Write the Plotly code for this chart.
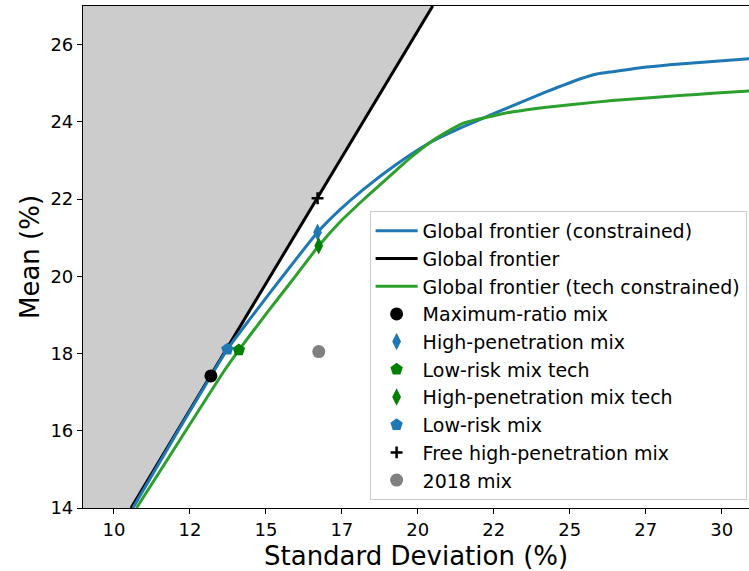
import plotly.graph_objects as go

# ---- data ----
frontier_sd = [10.56, 20.49]
frontier_mean = [14.0, 27.0]

constrained_sd = [10.62, 12.0, 13.19, 13.73, 14.47, 15.20, 15.95, 16.70, 17.43, 18.19,
                  19.31, 20.39, 21.48, 22.04, 23.13, 24.24, 25.33, 25.89, 26.41, 27.53,
                  28.62, 29.70, 30.95]
constrained_mean = [14.0, 15.85, 17.42, 18.11, 18.89, 19.64, 20.40, 21.14, 21.72, 22.24,
                    22.91, 23.46, 23.87, 24.06, 24.42, 24.78, 25.11, 25.24, 25.30, 25.42,
                    25.50, 25.56, 25.64]

tech_sd = [10.74, 12.20, 13.65, 14.11, 15.02, 15.90, 16.74, 17.43, 18.19, 19.31, 19.74,
           20.39, 21.00, 21.48, 22.04, 22.50, 23.13, 24.24, 25.33, 26.41, 27.53, 28.62,
           29.70, 30.95]
tech_mean = [14.0, 15.80, 17.58, 18.09, 19.04, 19.93, 20.79, 21.40, 21.97, 22.76, 23.06,
             23.46, 23.76, 23.96, 24.08, 24.16, 24.26, 24.38, 24.47, 24.55, 24.62, 24.68,
             24.74, 24.80]

points = {
    "Maximum-ratio mix": (13.19, 17.42),
    "High-penetration mix": (16.70, 21.14),
    "Low-risk mix tech": (14.11, 18.09),
    "High-penetration mix tech": (16.74, 20.79),
    "Low-risk mix": (13.73, 18.11),
    "Free high-penetration mix": (16.70, 22.02),
    "2018 mix": (16.74, 18.05),
}

x_tickvals = [10, 12.5, 15, 17.5, 20, 22.5, 25, 27.5, 30]
x_ticktext = ["10", "12", "15", "17", "20", "22", "25", "27", "30"]
y_tickvals = [14, 16, 18, 20, 22, 24, 26]

x_range = [8.98, 30.9]
y_range = [14, 27]

FONT = "DejaVu Sans"
BLUE = "#1f77b4"
GREEN = "#2ca02c"

fig = go.Figure()

# shaded infeasible region to the left of the global frontier
fig.add_trace(go.Scatter(
    x=[x_range[0], frontier_sd[0], frontier_sd[-1], x_range[0]],
    y=[frontier_mean[0], frontier_mean[0], frontier_mean[-1], frontier_mean[-1]],
    fill="toself", fillcolor="#cccccc", mode="lines", line=dict(width=0),
    showlegend=False, hoverinfo="skip"))

fig.add_trace(go.Scatter(x=frontier_sd, y=frontier_mean, mode="lines",
                         name="Global frontier", line=dict(color="black", width=3),
                         legendrank=2))
fig.add_trace(go.Scatter(x=constrained_sd, y=constrained_mean, mode="lines",
                         name="Global frontier (constrained)",
                         line=dict(color=BLUE, width=3, shape="spline", smoothing=0.5),
                         legendrank=1))
fig.add_trace(go.Scatter(x=tech_sd, y=tech_mean, mode="lines",
                         name="Global frontier (tech constrained)",
                         line=dict(color=GREEN, width=3, shape="spline", smoothing=0.5),
                         legendrank=3))

styles = {
    "Maximum-ratio mix": dict(symbol="circle", color="black", size=13),
    "High-penetration mix": dict(symbol="diamond-tall", color=BLUE, size=12.5),
    "Low-risk mix tech": dict(symbol="pentagon", color="#008000", size=13),
    "High-penetration mix tech": dict(symbol="diamond-tall", color="#008000", size=12.5),
    "Low-risk mix": dict(symbol="pentagon", color=BLUE, size=13),
    "Free high-penetration mix": dict(symbol="cross-thin", color="black", size=8.5,
                                      line=dict(width=2.5, color="black")),
    "2018 mix": dict(symbol="circle", color="#808080", size=13),
}
rank = 4
for name, (sx, my) in points.items():
    st = dict(styles[name])
    if "line" not in st:
        st["line"] = dict(width=0)
    fig.add_trace(go.Scatter(x=[sx], y=[my], mode="markers", name=name,
                             marker=st, legendrank=rank))
    rank += 1

axis_common = dict(
    showgrid=False, zeroline=False, showline=True, linecolor="black", linewidth=1.2,
    mirror=True, ticks="outside", ticklen=5, tickwidth=1.2, tickcolor="black",
    automargin=False,
    tickfont=dict(family=FONT, size=18, color="black"),
)

fig.update_layout(
    width=749, height=571,
    margin=dict(l=83, r=0, t=6, b=63, autoexpand=False),
    plot_bgcolor="white", paper_bgcolor="white",
    font=dict(family=FONT, color="black"),
    xaxis=dict(range=x_range, tickvals=x_tickvals, ticktext=x_ticktext, **axis_common),
    yaxis=dict(range=y_range, tickvals=y_tickvals, **axis_common),
    legend=dict(x=0.9964, y=0.016, xanchor="right", yanchor="bottom",
                bgcolor="rgba(255,255,255,0.8)", bordercolor="#cccccc", borderwidth=1,
                font=dict(family=FONT, size=19, color="black"),
                itemwidth=42, tracegroupgap=0),
    showlegend=True,
    annotations=[
        dict(text="Standard Deviation (%)", xref="paper", yref="paper",
             x=0.5, y=-0.0956, xanchor="center", yanchor="middle", showarrow=False,
             font=dict(family=FONT, size=26, color="black")),
        dict(text="Mean (%)", xref="paper", yref="paper", textangle=-90,
             x=-0.0796, y=0.5, xanchor="center", yanchor="middle", showarrow=False,
             font=dict(family=FONT, size=26, color="black")),
    ],
)

fig.write_html("out.html", config={"displayModeBar": False},
               post_script="document.body.style.margin='0';document.body.style.overflow='hidden';")
